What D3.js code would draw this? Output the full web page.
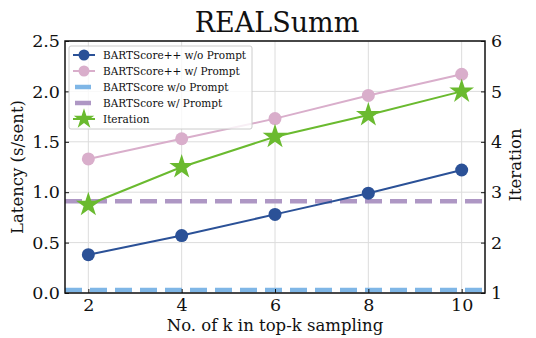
<!DOCTYPE html>
<html>
<head>
<meta charset="utf-8">
<script src="https://cdn.jsdelivr.net/npm/d3@7"></script>
<style>
  body { margin: 0; background: #fff; }
  text { font-family: "DejaVu Serif", serif; fill: #111; }
</style>
</head>
<body>
<div id="chartDiv"></div>
<script>
// data
const kValues = [2, 4, 6, 8, 10];
const bsppNoPrompt = [0.38, 0.57, 0.78, 0.99, 1.22];
const bsppPrompt = [1.33, 1.53, 1.73, 1.96, 2.17];
const iterations = [2.75, 3.5, 4.1, 4.53, 5.0];
const bsNoPrompt = 0.03;
const bsPrompt = 0.91;
const xTicks = [2, 4, 6, 8, 10];
const yTicks = [0, 0.5, 1.0, 1.5, 2.0, 2.5];
const y2Ticks = [1, 2, 3, 4, 5, 6];

const W = 536, H = 338;
const margin = { left: 65, right: 51, top: 41, bottom: 45 };
const iw = W - margin.left - margin.right;
const ih = H - margin.top - margin.bottom;

const colors = {
  dark: '#2b5197',
  pink: '#d9aecb',
  light: '#7fb6e6',
  purple: '#ae97c4',
  green: '#6aba2f'
};

const svg = d3.select('#chartDiv').append('svg')
  .attr('width', W).attr('height', H);
const g = svg.append('g').attr('transform', `translate(${margin.left},${margin.top})`);

const x = d3.scaleLinear().domain([1.5, 10.5]).range([0, iw]);
const y = d3.scaleLinear().domain([0, 2.5]).range([ih, 0]);
const y2 = d3.scaleLinear().domain([1, 6]).range([ih, 0]);

// grid
g.append('g').selectAll('line').data(xTicks).enter().append('line')
  .attr('x1', d => x(d)).attr('x2', d => x(d)).attr('y1', 0).attr('y2', ih)
  .attr('stroke', '#dcdcdc').attr('stroke-width', 1);
g.append('g').selectAll('line').data(yTicks).enter().append('line')
  .attr('x1', 0).attr('x2', iw).attr('y1', d => y(d)).attr('y2', d => y(d))
  .attr('stroke', '#dcdcdc').attr('stroke-width', 1);

// horizontal baselines
g.append('line').attr('x1', 0).attr('x2', iw)
  .attr('y1', y(bsNoPrompt)).attr('y2', y(bsNoPrompt))
  .attr('stroke', colors.light).attr('stroke-width', 4.5).attr('stroke-dasharray', '17,8');
g.append('line').attr('x1', 0).attr('x2', iw)
  .attr('y1', y(bsPrompt)).attr('y2', y(bsPrompt))
  .attr('stroke', colors.purple).attr('stroke-width', 4.5).attr('stroke-dasharray', '17,8');

const line = (sc) => d3.line().x((d, i) => x(kValues[i])).y(d => sc(d));

function drawCircles(vals, color) {
  g.append('path').datum(vals).attr('d', line(y))
    .attr('fill', 'none').attr('stroke', color).attr('stroke-width', 2);
  g.append('g').selectAll('circle').data(vals).enter().append('circle')
    .attr('cx', (d, i) => x(kValues[i])).attr('cy', d => y(d)).attr('r', 6.5)
    .attr('fill', color);
}
drawCircles(bsppPrompt, colors.pink);
drawCircles(bsppNoPrompt, colors.dark);

const star = d3.symbol().type(d3.symbolStar).size(190);
g.append('path').datum(iterations).attr('d', line(y2))
  .attr('fill', 'none').attr('stroke', colors.green).attr('stroke-width', 2);
g.append('g').selectAll('path').data(iterations).enter().append('path')
  .attr('d', star)
  .attr('transform', (d, i) => `translate(${x(kValues[i])},${y2(d)})`)
  .attr('fill', colors.green);

// axes
const xAxis = d3.axisBottom(x).tickValues(xTicks).tickSizeInner(-4).tickSizeOuter(0).tickPadding(6);
const yAxis = d3.axisLeft(y).tickValues(yTicks).tickSizeInner(-4).tickSizeOuter(0).tickPadding(5)
  .tickFormat(d3.format('.1f'));
const y2Axis = d3.axisRight(y2).tickValues(y2Ticks).tickSizeInner(-4).tickSizeOuter(0).tickPadding(6)
  .tickFormat(d3.format('d'));

const xAxisG = g.append('g').attr('transform', `translate(0,${ih})`).call(xAxis);
const yAxisG = g.append('g').call(yAxis);
const y2AxisG = g.append('g').attr('transform', `translate(${iw},0)`).call(y2Axis);
[xAxisG, yAxisG, y2AxisG].forEach(a => {
  a.select('.domain').remove();
  a.selectAll('.tick line').attr('stroke', '#111');
  a.selectAll('.tick text').style('font-size', '17.5px').style('font-family', '"DejaVu Serif", serif').attr('fill', '#111');
});

// frame
g.append('rect').attr('width', iw).attr('height', ih)
  .attr('fill', 'none').attr('stroke', '#111').attr('stroke-width', 1.5);

// labels
svg.append('text').attr('x', margin.left + iw / 2 + 2).attr('y', 32)
  .attr('text-anchor', 'middle').style('font-size', '27px').text('REALSumm');
svg.append('text').attr('x', margin.left + iw / 2).attr('y', 331)
  .attr('text-anchor', 'middle').style('font-size', '16.5px').text('No. of k in top-k sampling');
svg.append('text').attr('transform', `translate(23,${margin.top + ih / 2}) rotate(-90)`)
  .attr('text-anchor', 'middle').style('font-size', '16.5px').text('Latency (s/sent)');
svg.append('text').attr('transform', `translate(521,${margin.top + ih / 2 - 2}) rotate(-90)`)
  .attr('text-anchor', 'middle').style('font-size', '16.5px').text('Iteration');

// legend
const legendItems = [
  { label: 'BARTScore++ w/o Prompt', color: colors.dark, type: 'circle' },
  { label: 'BARTScore++ w/ Prompt', color: colors.pink, type: 'circle' },
  { label: 'BARTScore w/o Prompt', color: colors.light, type: 'dash' },
  { label: 'BARTScore w/ Prompt', color: colors.purple, type: 'dash' },
  { label: 'Iteration', color: colors.green, type: 'star' }
];
const lg = svg.append('g').attr('transform', 'translate(69,46)');
lg.append('rect').attr('width', 183).attr('height', 83).attr('rx', 2)
  .attr('fill', 'rgba(255,255,255,0.8)').attr('stroke', '#ccc').attr('stroke-width', 1);
legendItems.forEach((it, i) => {
  const row = lg.append('g').attr('transform', `translate(0,${9 + i * 16})`);
  if (it.type === 'dash') {
    row.append('line').attr('x1', 6).attr('x2', 22).attr('y1', 0).attr('y2', 0)
      .attr('stroke', it.color).attr('stroke-width', 4.5);
  } else {
    row.append('line').attr('x1', 4).attr('x2', 26).attr('y1', 0).attr('y2', 0)
      .attr('stroke', it.color).attr('stroke-width', 2);
    if (it.type === 'circle') {
      row.append('circle').attr('cx', 15).attr('cy', 0).attr('r', 5.5).attr('fill', it.color);
    } else {
      row.append('path').attr('d', d3.symbol().type(d3.symbolStar).size(130))
        .attr('transform', 'translate(15,0)').attr('fill', it.color);
    }
  }
  row.append('text').attr('x', 34).attr('y', 4).style('font-size', '10.5px').text(it.label);
});
</script>
</body>
</html>
